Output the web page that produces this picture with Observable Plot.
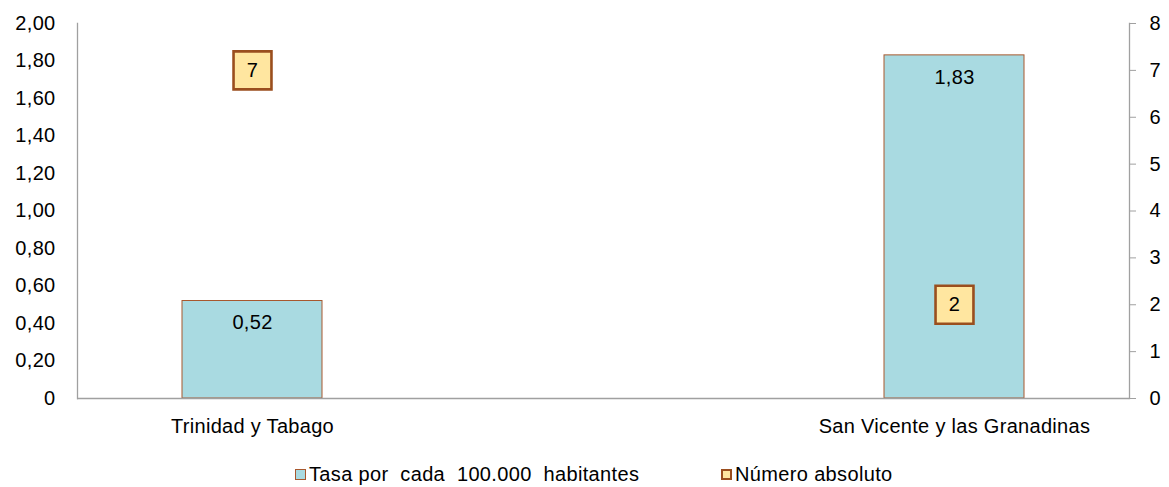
<!DOCTYPE html>
<html><head><meta charset="utf-8">
<script src="https://cdn.jsdelivr.net/npm/d3@7"></script>
<script src="https://cdn.jsdelivr.net/npm/@observablehq/plot@0.6"></script>
<style>
body{margin:0;background:#fff;font-family:"Liberation Sans",Arial,sans-serif;}
#legend{position:relative;height:37px;font-size:20px;letter-spacing:0.35px;color:#000;}
#legend .item{position:absolute;top:12px;display:flex;align-items:center;white-space:pre;line-height:24px;}
#legend .sw{display:inline-block;width:11px;height:11px;margin-right:3px;box-sizing:border-box;}
</style></head><body><div id="chart"></div><div id="legend"></div>
<script>
const countries = ["Trinidad y Tabago", "San Vicente y las Granadinas"];
const tasa = [0.52, 1.83];
const absoluto = [7, 2];
const leftTicks = [0, 0.2, 0.4, 0.6, 0.8, 1.0, 1.2, 1.4, 1.6, 1.8, 2.0];
const rightTicks = [0, 1, 2, 3, 4, 5, 6, 7, 8];
const leftMax = 2, rightMax = 8;
const seriesNames = ["Tasa por  cada  100.000  habitantes", "Número absoluto"];
const colors = {barFill: "#A9DAE1", barStroke: "#A8582E", boxFill: "#FFE6A0", boxStroke: "#9A4E1E", axis: "#A0A0A0"};

const data = countries.map((c, i) => ({country: c, tasa: tasa[i], abs: absoluto[i]}));
const toLeft = v => v * leftMax / rightMax;
const fmtLeft = d => d === 0 ? "0" : d.toFixed(2).replace(".", ",");
const fmtNum = d => d.toFixed(2).replace(".", ",");

const chart = Plot.plot({
  width: 1169,
  height: 450,
  marginLeft: 77,
  marginRight: 40,
  marginTop: 23,
  marginBottom: 52,
  style: {fontFamily: '"Liberation Sans", Arial, sans-serif', fontSize: "20px", letterSpacing: "0.3px", color: "#000", background: "#fff"},
  x: {domain: countries, paddingInner: 0.8, paddingOuter: 0.149, label: null},
  y: {domain: [0, leftMax], label: null},
  marks: [
    Plot.barY(data, {x: "country", y: "tasa", fill: colors.barFill, stroke: colors.barStroke, strokeWidth: 1}),
    Plot.text(data, {x: "country", y: "tasa", text: d => fmtNum(d.tasa), dy: 22, fill: "#000", fontSize: 20}),
    Plot.frame({anchor: "left", stroke: colors.axis, strokeWidth: 1.3}),
    Plot.frame({anchor: "right", stroke: colors.axis, strokeWidth: 1.3}),
    Plot.ruleY([0], {stroke: colors.axis, strokeWidth: 1.3}),
    Plot.axisY(leftTicks, {anchor: "left", label: null, tickSize: 0, tickPadding: 22, tickFormat: fmtLeft, fill: "#000"}),
    Plot.axisY(rightTicks.map(toLeft), {anchor: "right", label: null, tickSize: 6, tickPadding: 14, stroke: colors.axis, tickFormat: d => String(Math.round(d * rightMax / leftMax)), fill: "#000"}),
    Plot.axisX({anchor: "bottom", label: null, tickSize: 0, tickPadding: 20, fill: "#000"}),
    Plot.dot(data, {x: "country", y: d => toLeft(d.abs), symbol: "square", r: 21.4, fill: colors.boxFill, stroke: colors.boxStroke, strokeWidth: 2.6}),
    Plot.text(data, {x: "country", y: d => toLeft(d.abs), text: d => String(d.abs), fill: "#000", fontSize: 20})
  ]
});
document.getElementById("chart").appendChild(chart);

const legend = document.getElementById("legend");
const swatches = [
  {fill: colors.barFill, border: "1.5px solid " + colors.barStroke, left: 295},
  {fill: colors.boxFill, border: "2px solid " + colors.boxStroke, left: 721}
];
seriesNames.forEach((name, i) => {
  const item = document.createElement("div");
  item.className = "item";
  item.style.left = swatches[i].left + "px";
  const sw = document.createElement("span");
  sw.className = "sw";
  sw.style.background = swatches[i].fill;
  sw.style.border = swatches[i].border;
  item.appendChild(sw);
  item.appendChild(document.createTextNode(name));
  legend.appendChild(item);
});
</script>
</body></html>
